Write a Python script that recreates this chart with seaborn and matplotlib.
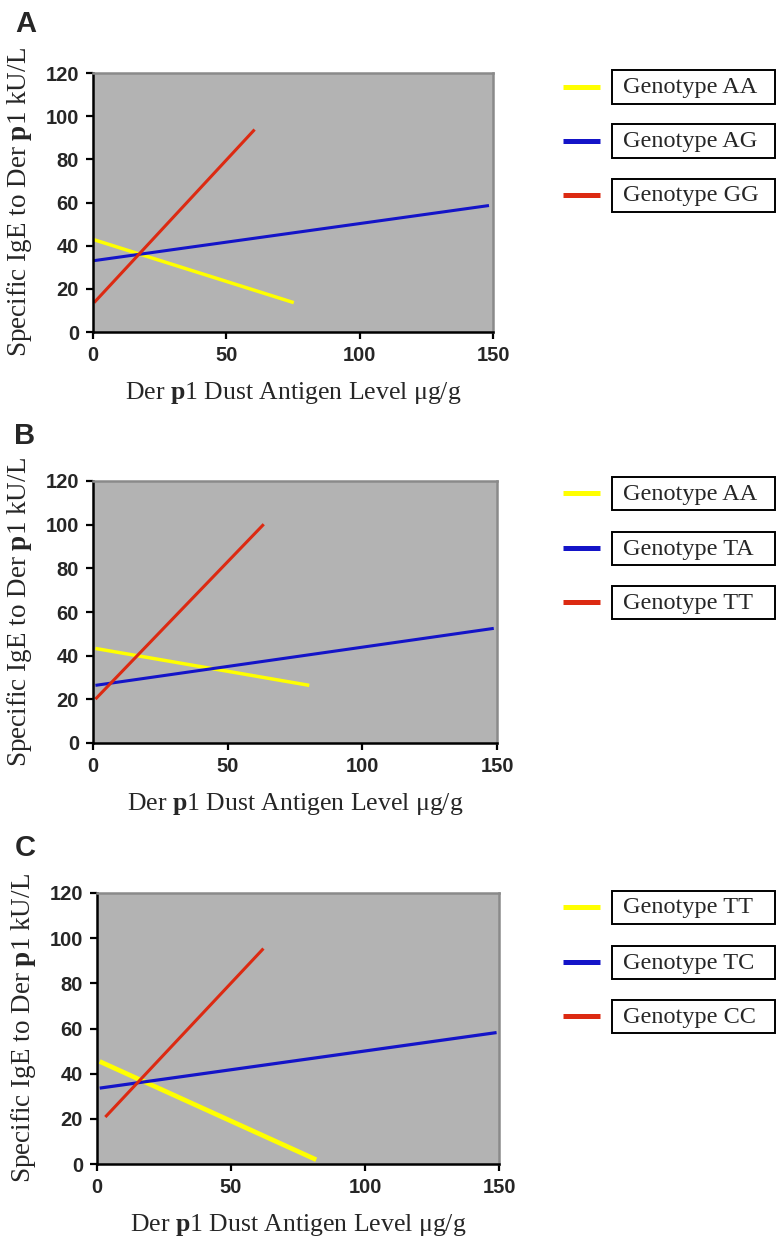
import numpy as np
import pandas as pd
import seaborn as sns
import matplotlib.pyplot as plt
from matplotlib.lines import Line2D
from matplotlib.patches import Rectangle

# regression lines (start / end points of each line)
panel_letters = ["A", "B", "C"]
genotypes_a = ["Genotype AA", "Genotype AG", "Genotype GG"]
genotypes_b = ["Genotype AA", "Genotype TA", "Genotype TT"]
genotypes_c = ["Genotype TT", "Genotype TC", "Genotype CC"]

x_start_a = [0.0, 0.0, 0.4]
x_end_a = [75.3, 148.5, 60.6]
y_start_a = [42.9, 33.0, 13.6]
y_end_a = [13.6, 58.6, 93.8]

x_start_b = [0.9, 0.9, 0.9]
x_end_b = [80.3, 148.8, 63.4]
y_start_b = [43.3, 26.4, 20.1]
y_end_b = [26.4, 52.5, 100.2]

x_start_c = [1.0, 1.0, 3.1]
x_end_c = [81.8, 149.1, 62.1]
y_start_c = [45.4, 33.6, 20.8]
y_end_c = [1.9, 58.2, 95.4]

x_ticks = [0, 50, 100, 150]
y_ticks = [0, 20, 40, 60, 80, 100, 120]

line_colors = ["#ffff00", "#1414c8", "#dc2a12"]

sns.set_style("ticks")
plt.rcParams["font.family"] = ["Liberation Serif", "DejaVu Serif"]
plt.rcParams["mathtext.fontset"] = "custom"
plt.rcParams["mathtext.rm"] = "Liberation Serif"
plt.rcParams["mathtext.bf"] = "Liberation Serif:bold"

W, H = 776, 1249
fig = plt.figure(figsize=(W / 100, H / 100), dpi=100)


def px(x, y):
    return x / W, 1 - y / H


# pixel boxes of the three plots: left, top, right, bottom
boxes = [(93, 73, 493, 332), (93, 481, 497, 743), (97, 893, 499, 1164)]
legend_rows = [[87, 141, 195], [493, 548, 602], [907, 962, 1016]]
letter_pos = [(26, 24), (25, 436), (25, 848)]

panels = [
    (genotypes_a, x_start_a, x_end_a, y_start_a, y_end_a, [2.5, 2.2, 2.2]),
    (genotypes_b, x_start_b, x_end_b, y_start_b, y_end_b, [2.5, 2.2, 2.2]),
    (genotypes_c, x_start_c, x_end_c, y_start_c, y_end_c, [3.4, 2.3, 2.2]),
]

for i, (names, xs, xe, ys, ye, widths) in enumerate(panels):
    l, t, r, b = boxes[i]
    ax = fig.add_axes([l / W, 1 - b / H, (r - l) / W, (b - t) / H])
    ax.set_facecolor("#b3b3b3")

    df = pd.DataFrame({
        "x": np.concatenate([[s, e] for s, e in zip(xs, xe)]),
        "y": np.concatenate([[s, e] for s, e in zip(ys, ye)]),
        "genotype": np.repeat(names, 2),
    })
    sns.lineplot(data=df, x="x", y="y", hue="genotype", palette=line_colors,
                 hue_order=names, sort=False, estimator=None, legend=False, ax=ax)
    for ln, w in zip(ax.lines, widths):
        ln.set_linewidth(w)
        ln.set_solid_capstyle("butt")

    ax.set_xlim(0, 150)
    ax.set_ylim(0, 120)
    ax.set_xticks(x_ticks)
    ax.set_yticks(y_ticks)
    ax.tick_params(direction="out", length=5, width=1.6, color="black", pad=5)
    for lab in ax.get_xticklabels() + ax.get_yticklabels():
        lab.set_fontfamily(["Liberation Sans Narrow", "Liberation Sans", "DejaVu Sans"])
        lab.set_fontweight("bold")
        lab.set_fontsize(14.5)

    for s in ["left", "bottom"]:
        ax.spines[s].set_color("black")
        ax.spines[s].set_linewidth(1.8)
    for s in ["top", "right"]:
        ax.spines[s].set_visible(True)
        ax.spines[s].set_color("#8a8a8a")
        ax.spines[s].set_linewidth(1.8)

    ax.set_xlabel(r"Der $\mathbf{p}$1 Dust Antigen Level μg/g", fontsize=18.5, labelpad=11)
    ax.set_ylabel(r"Specific IgE to Der $\mathbf{p}$1 kU/L", fontsize=19.5, labelpad=8)

    # panel letter
    fx, fy = px(*letter_pos[i])
    fig.text(fx, fy, panel_letters[i], fontsize=21, fontweight="bold",
             family=["Liberation Sans", "DejaVu Sans"], ha="center", va="center")

    # boxed legend entries
    for name, col, yc in zip(names, line_colors, legend_rows[i]):
        x0, y0 = px(563, yc)
        x1, _ = px(600, yc)
        fig.add_artist(Line2D([x0, x1], [y0, y0], color=col, lw=3.6,
                              solid_capstyle="butt", transform=fig.transFigure))
        bx, by = px(612, yc + 16.5)
        fig.add_artist(Rectangle((bx, by), (775 - 612) / W, 33 / H, fill=False,
                                 edgecolor="black", lw=1.4, transform=fig.transFigure))
        tx, ty = px(623, yc + 1)
        fig.text(tx, ty, name, fontsize=17.5, ha="left", va="center")

fig.savefig("out.png", dpi=100, facecolor="white")
